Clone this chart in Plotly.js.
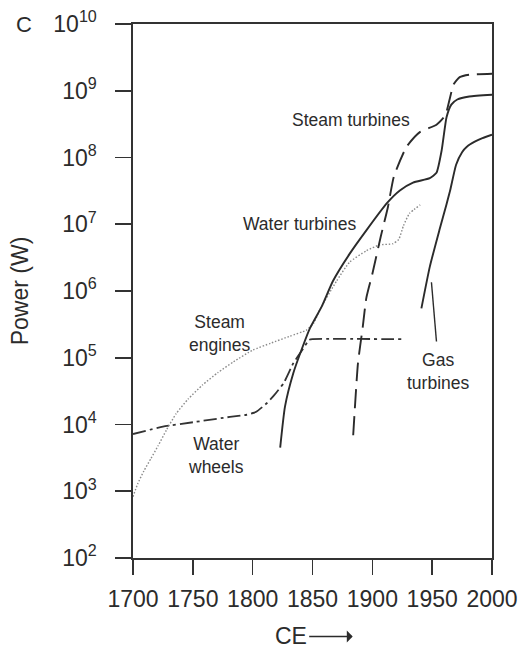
<!DOCTYPE html>
<html>
<head>
<meta charset="utf-8">
<script src="https://cdn.plot.ly/plotly-3.0.1.min.js"></script>
<style>
  html, body { margin: 0; padding: 0; background: #fff; }
  #chart { width: 522px; height: 648px; }
</style>
</head>
<body>
<div id="chart"></div>
<script>
// ---- data (year CE, power in W) ----
const waterWheelsYears = [1700, 1725, 1753, 1781, 1795, 1803, 1812, 1818, 1826, 1834, 1842, 1847, 1850, 1925];
const waterWheelsPower = [7.2e3, 9.3e3, 1.1e4, 1.3e4, 1.4e4, 1.55e4, 2.1e4, 2.75e4, 4.2e4, 8.3e4, 1.35e5, 1.85e5, 1.9e5, 1.9e5];

const steamEnginesYears = [1700, 1704, 1709, 1715, 1721, 1728, 1736, 1746, 1758, 1771, 1784, 1800, 1815, 1831, 1845, 1851, 1856, 1870, 1881, 1895, 1906, 1917, 1922, 1926, 1931, 1940];
const steamEnginesPower = [830, 1.3e3, 2.0e3, 3.1e3, 4.8e3, 8.3e3, 1.45e4, 2.4e4, 3.9e4, 6.0e4, 8.7e4, 1.3e5, 1.65e5, 2.1e5, 2.6e5, 3.3e5, 5.2e5, 1.4e6, 2.7e6, 4.0e6, 4.9e6, 5.1e6, 5.9e6, 9.5e6, 1.45e7, 1.95e7];

const waterTurbinesYears = [1823, 1827, 1834, 1842, 1848, 1858, 1867, 1881, 1895, 1912, 1923, 1934, 1948, 1953.6, 1958, 1962, 1966, 1971, 1981, 2000];
const waterTurbinesPower = [4.5e3, 1.85e4, 5.9e4, 1.5e5, 2.8e5, 6.0e5, 1.4e6, 3.6e6, 8.1e6, 2.05e7, 3.2e7, 4.2e7, 4.9e7, 5.9e7, 1.3e8, 4.0e8, 6.2e8, 7.4e8, 8.2e8, 8.7e8];

const steamTurbinesYears = [1884, 1888, 1892, 1895, 1900, 1907, 1913, 1918, 1928.6, 1939.7, 1953.6, 1961, 1965, 1968, 1973, 1981, 2000];
const steamTurbinesPower = [6.9e3, 8.3e4, 2.9e5, 7.9e5, 1.8e6, 6.5e6, 1.8e7, 5.2e7, 1.45e8, 2.4e8, 3.1e8, 4.3e8, 8.0e8, 1.25e9, 1.6e9, 1.74e9, 1.8e9];

const gasTurbinesYears = [1941, 1948, 1956, 1962, 1965, 1970, 1975, 1979, 1986, 1992, 2000];
const gasTurbinesPower = [5.5e5, 2.3e6, 8.1e6, 2.0e7, 3.2e7, 7.8e7, 1.2e8, 1.45e8, 1.74e8, 1.95e8, 2.2e8];

// leader line from "Gas turbines" label to its curve
const gasLeaderYears = [1949.4, 1953.6];
const gasLeaderPower = [1.35e6, 1.75e5];

// axis ticks
const xTickVals = [1700, 1750, 1800, 1850, 1900, 1950, 2000];
const yTickVals = [1e2, 1e3, 1e4, 1e5, 1e6, 1e7, 1e8, 1e9, 1e10];
const yTickText = ['10<sup>2</sup>', '10<sup>3</sup>', '10<sup>4</sup>', '10<sup>5</sup>', '10<sup>6</sup>',
                   '10<sup>7</sup>', '10<sup>8</sup>', '10<sup>9</sup>', '10<sup>10</sup>'];

// curve labels: [text, year, log10(power)]
const labelTexts = ['Steam turbines', 'Water turbines', 'Steam<br>engines', 'Water<br>wheels', 'Gas<br>turbines'];
const labelYears = [1882.1, 1838.8, 1773, 1769.5, 1955.5];
const labelLogPower = [8.56, 7.0, 5.36, 3.53, 4.79];

const INK = '#2b2b2b';
const FONT = 'Liberation Sans, Arial, Helvetica, sans-serif';

const traces = [
  { name: 'Water wheels', x: waterWheelsYears, y: waterWheelsPower, mode: 'lines',
    line: { color: '#333', width: 1.8, dash: '13px,4px,3px,4px', shape: 'spline', smoothing: 0.4 } },
  { name: 'Steam engines', x: steamEnginesYears, y: steamEnginesPower, mode: 'lines',
    line: { color: '#8a8a8a', width: 1.4, dash: '1.5px,1.8px', shape: 'spline', smoothing: 0.5 } },
  { name: 'Water turbines', x: waterTurbinesYears, y: waterTurbinesPower, mode: 'lines',
    line: { color: '#2b2b2b', width: 1.9, shape: 'spline', smoothing: 0.5 } },
  { name: 'Steam turbines', x: steamTurbinesYears, y: steamTurbinesPower, mode: 'lines',
    line: { color: '#2b2b2b', width: 1.9, dash: '19px,8px', shape: 'spline', smoothing: 0.5 } },
  { name: 'Gas turbines', x: gasTurbinesYears, y: gasTurbinesPower, mode: 'lines',
    line: { color: '#2b2b2b', width: 1.9, shape: 'spline', smoothing: 0.5 } },
  { name: 'Gas leader', x: gasLeaderYears, y: gasLeaderPower, mode: 'lines',
    line: { color: '#2b2b2b', width: 1.4 } }
];

const annotations = labelTexts.map((t, i) => ({
  text: t, x: labelYears[i], y: labelLogPower[i], xref: 'x', yref: 'y',
  showarrow: false, font: { family: FONT, size: 17.5, color: INK }, align: 'center'
}));
annotations.push({
  text: 'C', xref: 'paper', yref: 'paper', x: -0.305, y: 1.0, xanchor: 'center', yanchor: 'middle',
  showarrow: false, font: { family: FONT, size: 22, color: INK }
});
// "CE" with arrow pointing right
annotations.push({
  text: 'CE', xref: 'paper', yref: 'paper', x: 0.612, y: -0.147,
  axref: 'pixel', ayref: 'pixel', ax: -62, ay: 0, borderpad: 0,
  showarrow: true, arrowhead: 1, arrowsize: 1.4, arrowwidth: 1.4, arrowcolor: INK, standoff: 0, startstandoff: 2,
  font: { family: FONT, size: 23, color: INK }
});

const layout = {
  width: 522, height: 648,
  margin: { l: 133, r: 30, t: 24, b: 90 },
  paper_bgcolor: '#fff', plot_bgcolor: '#fff',
  showlegend: false,
  font: { family: FONT, color: INK },
  xaxis: {
    range: [1700, 2000], tickvals: xTickVals, ticks: 'outside', ticklen: 15, tickwidth: 1.6, tickcolor: '#333',
    showline: true, linecolor: '#333', linewidth: 1.6, mirror: true, showgrid: false, zeroline: false,
    tickfont: { family: FONT, size: 23, color: INK }, ticklabelstandoff: 5
  },
  yaxis: {
    type: 'log', range: [2, 10], tickvals: yTickVals, ticktext: yTickText,
    ticks: 'outside', ticklen: 16, tickwidth: 1.6, tickcolor: '#333',
    showline: true, linecolor: '#333', linewidth: 1.6, mirror: true, showgrid: false, zeroline: false,
    tickfont: { family: FONT, size: 23, color: INK }, ticklabelstandoff: 14,
    title: { text: 'Power (W)', font: { family: FONT, size: 23, color: INK }, standoff: 18 }
  },
  annotations: annotations
};

Plotly.newPlot('chart', traces, layout, { staticPlot: true, displayModeBar: false });
</script>
</body>
</html>
